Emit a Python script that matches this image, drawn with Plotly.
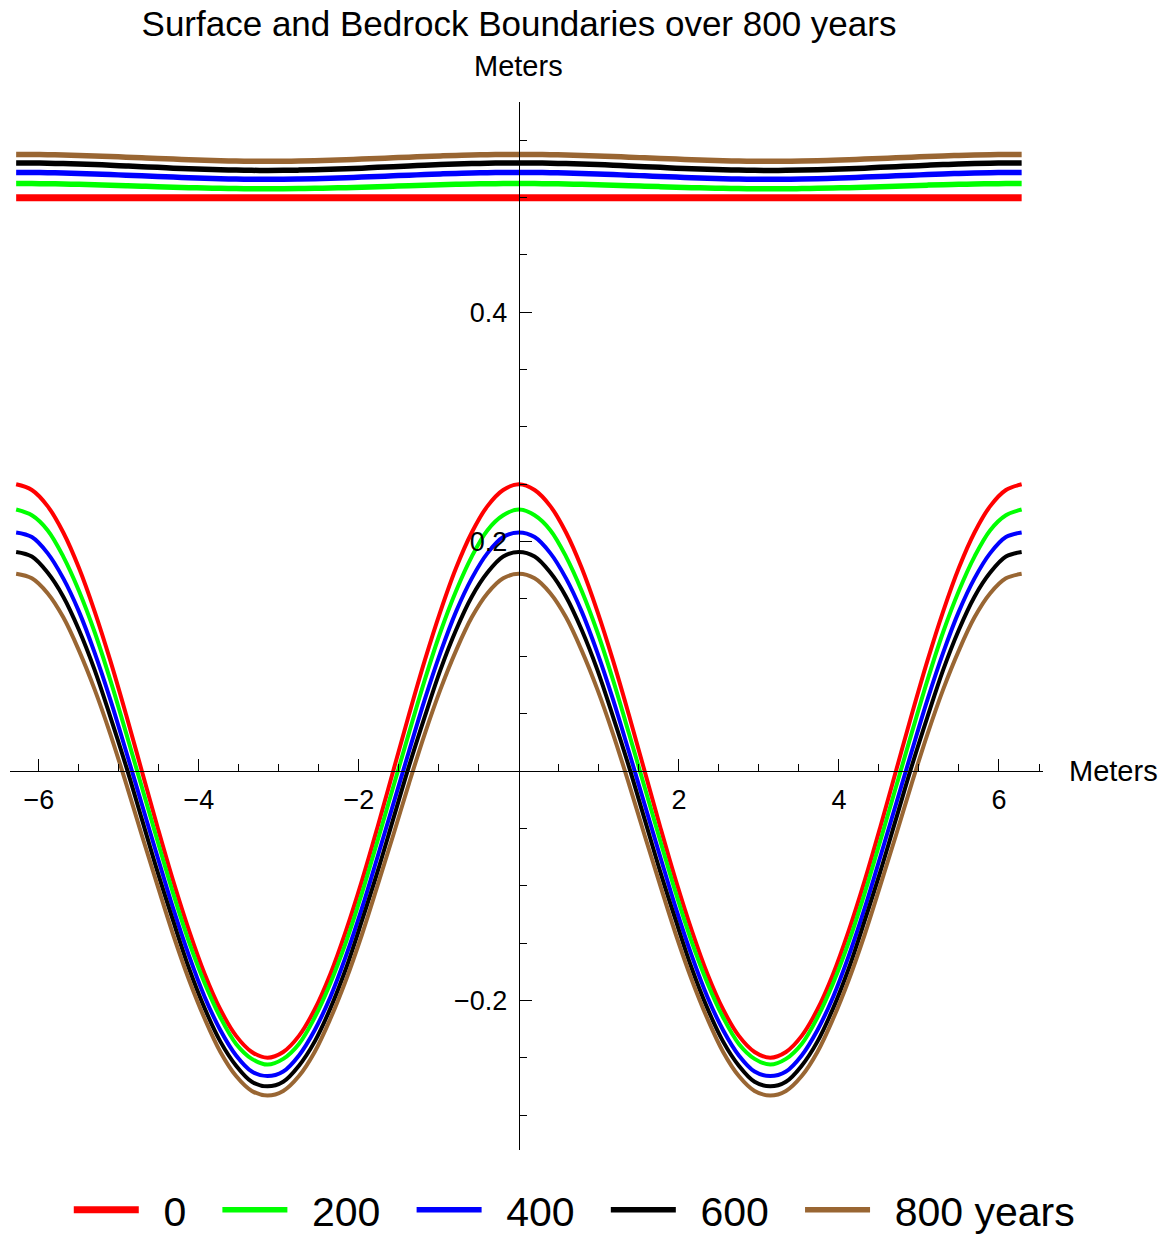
import math
import plotly.graph_objects as go

# sample positions (meters): -2*pi .. 2*pi in steps of pi/16
x_m = [round(k * math.pi / 16, 4) for k in range(-32, 33)]

labels = ["0", "200", "400", "600", "800 years"]
colors = ["#FF0000", "#00FF00", "#0000FF", "#000000", "#996633"]

# the curves are symmetric and periodic, so the full span is mirrored from these.
bed_0 = [0.250, 0.245, 0.231, 0.208, 0.177, 0.139, 0.096, 0.049, 0.000,
         -0.049, -0.096, -0.139, -0.177, -0.208, -0.231, -0.245, -0.250]
bed_200 = [0.228, 0.223, 0.210, 0.187, 0.157, 0.121, 0.079, 0.033, -0.014,
           -0.061, -0.107, -0.149, -0.185, -0.215, -0.238, -0.251, -0.256]
bed_400 = [0.208, 0.204, 0.190, 0.168, 0.139, 0.103, 0.062, 0.017, -0.029,
           -0.075, -0.120, -0.161, -0.197, -0.226, -0.248, -0.262, -0.266]
bed_600 = [0.191, 0.187, 0.173, 0.152, 0.123, 0.088, 0.047, 0.004, -0.042,
           -0.088, -0.131, -0.172, -0.207, -0.236, -0.257, -0.271, -0.275]
bed_800 = [0.172, 0.168, 0.155, 0.134, 0.105, 0.071, 0.032, -0.011, -0.056,
           -0.100, -0.143, -0.182, -0.216, -0.245, -0.266, -0.279, -0.283]

surf_0 = [0.500] * 17
surf_200 = [0.5123, 0.5123, 0.5121, 0.5119, 0.5116, 0.5113, 0.5109, 0.5104, 0.5100,
            0.5096, 0.5091, 0.5087, 0.5084, 0.5081, 0.5079, 0.5077, 0.5077]
surf_400 = [0.5220, 0.5219, 0.5218, 0.5215, 0.5211, 0.5207, 0.5201, 0.5196, 0.5190,
            0.5184, 0.5179, 0.5173, 0.5169, 0.5165, 0.5162, 0.5161, 0.5160]
surf_600 = [0.5303, 0.5302, 0.5300, 0.5297, 0.5293, 0.5288, 0.5283, 0.5276, 0.5270,
            0.5264, 0.5257, 0.5252, 0.5247, 0.5243, 0.5240, 0.5238, 0.5237]
surf_800 = [0.5377, 0.5376, 0.5375, 0.5372, 0.5368, 0.5364, 0.5358, 0.5353, 0.5347,
            0.5341, 0.5336, 0.5330, 0.5326, 0.5322, 0.5319, 0.5318, 0.5317]

bedrock = [bed_0, bed_200, bed_400, bed_600, bed_800]
surface = [surf_0, surf_200, surf_400, surf_600, surf_800]


def series(h):
    # arrange half-period readings over k = -32..32 (x from -2*pi to 2*pi)
    seq = []
    seq += h            # k=-32..-16
    seq += h[-2::-1]    # k=-15..0
    seq += h[1:]        # k=1..16
    seq += h[-2::-1]    # k=17..32
    return seq


x_ticks = [-6, -4, -2, 2, 4, 6]
x_tick_text = ["\u22126", "\u22124", "\u22122", "2", "4", "6"]
x_minor = [-6.5, -5.5, -5, -4.5, -3.5, -3, -2.5, -1.5, -1, -0.5,
           0.5, 1, 1.5, 2.5, 3, 3.5, 4.5, 5, 5.5, 6.5]
y_ticks = [-0.2, 0.2, 0.4]
y_tick_text = ["\u22120.2", "0.2", "0.4"]
y_minor = [-0.3, -0.25, -0.15, -0.1, -0.05, 0.05, 0.1, 0.15, 0.25, 0.3,
           0.35, 0.45, 0.5, 0.55]

x_range = [-6.36, 6.55]
y_range = [-0.3305, 0.5834]

FONT = "Liberation Sans, Arial, sans-serif"
LEAD = "\u00a0\u2009"
TRAIL = "\u00a0\u00a0\u200a"

fig = go.Figure()
for i in range(5):
    fig.add_trace(go.Scatter(
        x=x_m, y=series(bedrock[i]), mode="lines",
        line=dict(color=colors[i], width=4, shape="spline", smoothing=1),
        legendgroup=labels[i], showlegend=False, hoverinfo="skip"))
for i in range(5):
    fig.add_trace(go.Scatter(
        x=x_m, y=series(surface[i]), mode="lines",
        line=dict(color=colors[i], width=7 if i == 0 else 5.5, shape="spline", smoothing=1),
        name=LEAD + labels[i] + (TRAIL if i < 4 else ""),
        legendgroup=labels[i], showlegend=True, hoverinfo="skip"))

# positions of the crossing axes (origin) in paper coordinates
x_axis_pos = (0 - y_range[0]) / (y_range[1] - y_range[0])
y_axis_pos = (0 - x_range[0]) / (x_range[1] - x_range[0])

fig.update_layout(
    width=1172, height=1235,
    margin=dict(l=10, r=129, t=102, b=85, autoexpand=False),
    paper_bgcolor="white", plot_bgcolor="white",
    font=dict(family=FONT, color="black"),
    title=dict(text="Surface and Bedrock Boundaries over 800 years",
               x=519 / 1172, xanchor="center", xref="container",
               y=1 - 24 / 1235, yanchor="middle", yref="container",
               font=dict(size=35, color="black", family=FONT)),
    xaxis=dict(range=x_range, anchor="free", position=x_axis_pos, side="bottom",
               showgrid=False, zeroline=False, showline=True, linecolor="black", linewidth=1.2,
               tickmode="array", tickvals=x_ticks, ticktext=x_tick_text,
               ticks="inside", ticklen=12, tickwidth=1, tickcolor="black",
               ticklabelstandoff=4,
               minor=dict(tickmode="array", tickvals=x_minor, ticks="inside", ticklen=7,
                          tickwidth=1, tickcolor="black", showgrid=False),
               tickfont=dict(size=27, family=FONT, color="black")),
    yaxis=dict(range=y_range, anchor="free", position=y_axis_pos, side="left",
               showgrid=False, zeroline=False, showline=True, linecolor="black", linewidth=1.2,
               tickmode="array", tickvals=y_ticks, ticktext=y_tick_text,
               ticks="inside", ticklen=12, tickwidth=1, tickcolor="black",
               ticklabelstandoff=6,
               minor=dict(tickmode="array", tickvals=y_minor, ticks="inside", ticklen=7,
                          tickwidth=1, tickcolor="black", showgrid=False),
               tickfont=dict(size=27, family=FONT, color="black")),
    legend=dict(orientation="h", x=0.49, xanchor="center", xref="container",
                y=(1235 - 1210) / 1235, yanchor="middle", yref="container",
                font=dict(size=41, family=FONT, color="black"),
                traceorder="normal", itemwidth=65, bgcolor="rgba(0,0,0,0)"),
    annotations=[
        dict(text="Meters", xref="paper", yref="paper", x=(1113 - 10) / 1033, y=x_axis_pos,
             xanchor="center", yanchor="middle", showarrow=False,
             font=dict(size=29, family=FONT, color="black")),
        dict(text="Meters", xref="paper", yref="paper", x=y_axis_pos, y=(1150 - 66) / 1048,
             xanchor="center", yanchor="middle", showarrow=False,
             font=dict(size=29, family=FONT, color="black")),
    ],
)

fig.write_html("out.html")
